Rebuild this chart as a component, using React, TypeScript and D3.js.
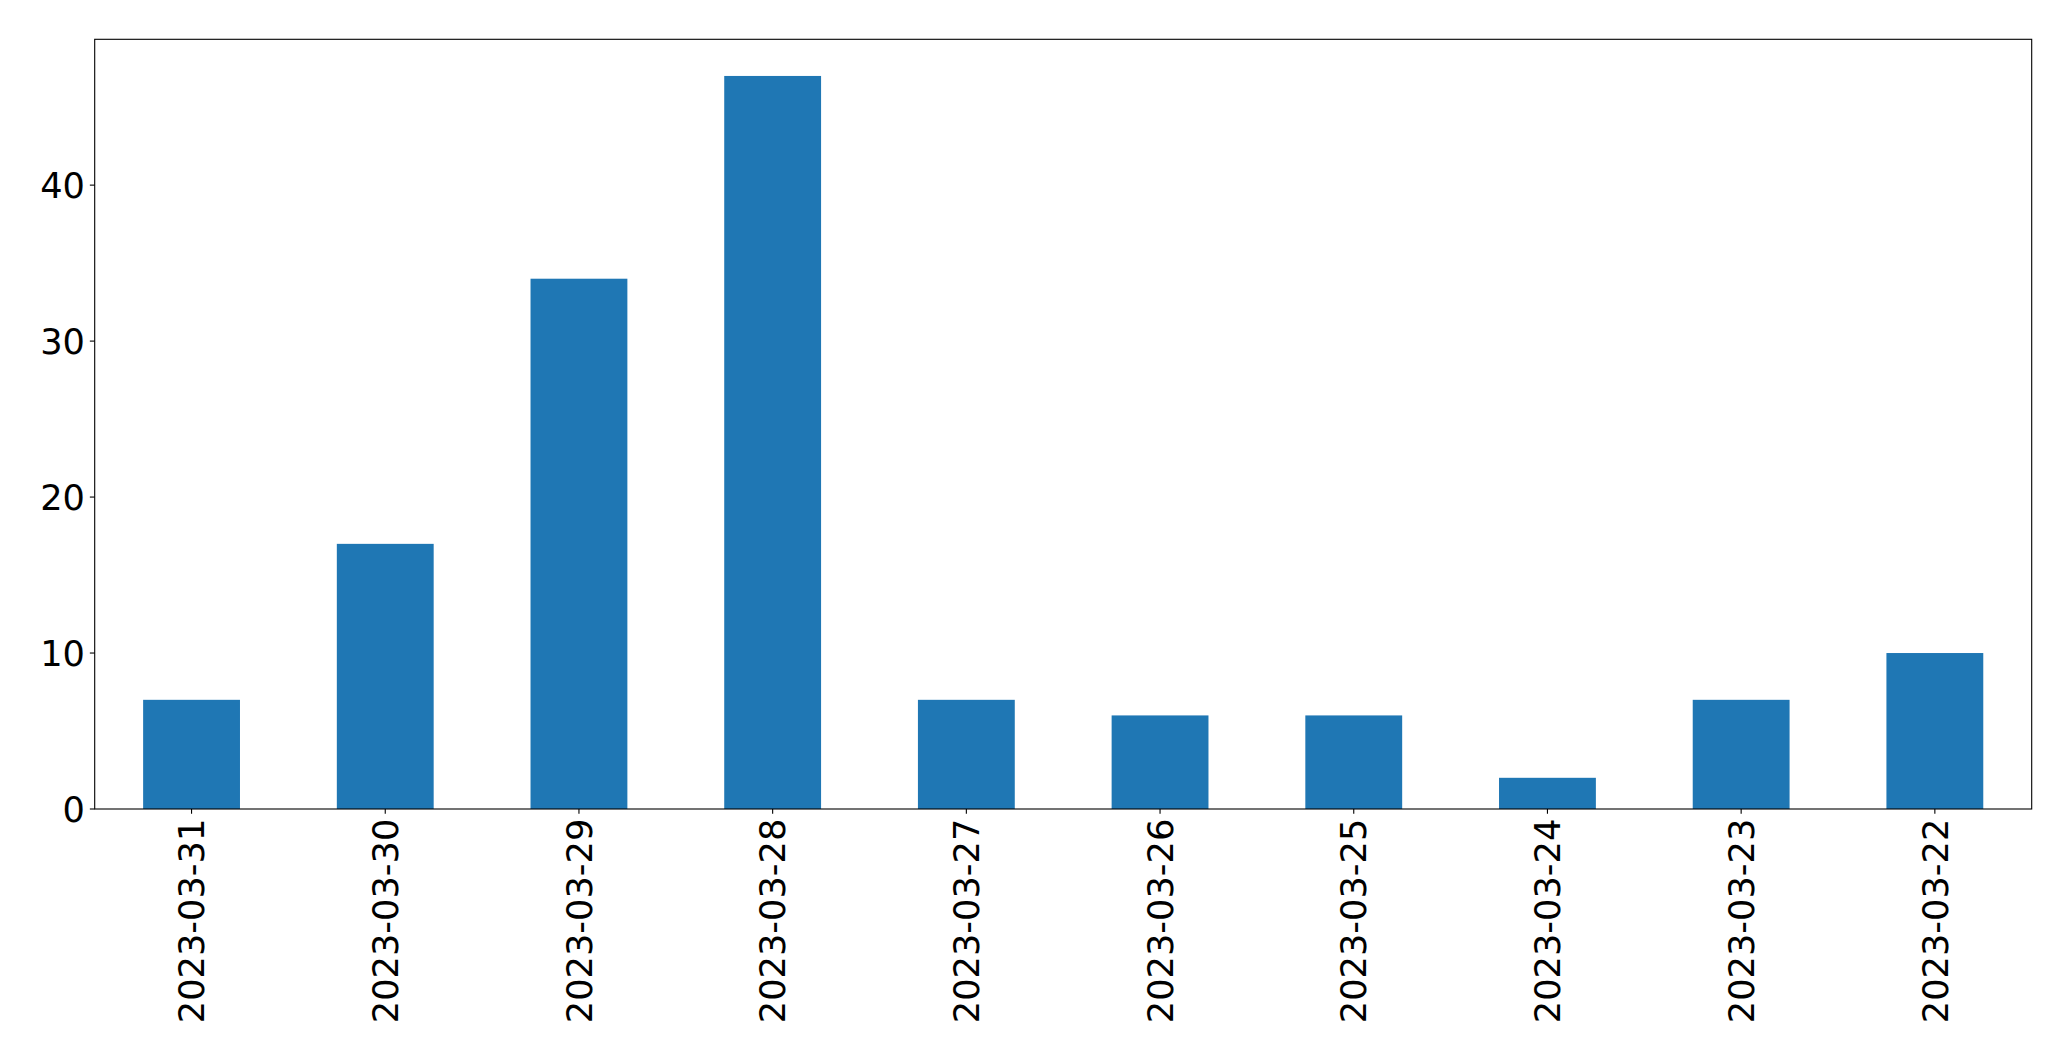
import React from "react";
import * as d3 from "d3";

const categories = [
  "2023-03-31", "2023-03-30", "2023-03-29", "2023-03-28", "2023-03-27",
  "2023-03-26", "2023-03-25", "2023-03-24", "2023-03-23", "2023-03-22",
];
const values = [7, 17, 34, 47, 7, 6, 6, 2, 7, 10];
const yTicks = [0, 10, 20, 30, 40];

const W = 2071;
const H = 1061;
const left = 94.7;
const right = 2031.7;
const top = 39.3;
const bottom = 809;
const fontSize = 35.2;
const tickLen = 4.86;
const pad = 4.86;

export default function App() {
  const x = d3
    .scaleLinear()
    .domain([-0.5, categories.length - 0.5])
    .range([left, right]);
  const yMax = d3.max(values)! * 1.05;
  const y = d3.scaleLinear().domain([0, yMax]).range([bottom, top]);
  const barW = x(0.25) - x(-0.25);

  return (
    <svg
      width={W}
      height={H}
      style={{ position: "absolute", left: 0, top: 0, background: "#fff" }}
      fontFamily="DejaVu Sans"
    >
      <rect x={0} y={0} width={W} height={H} fill="#fff" />
      {values.map((v, i) => (
        <rect
          key={i}
          x={x(i) - barW / 2}
          y={y(v)}
          width={barW}
          height={y(0) - y(v)}
          fill="#1f77b4"
        />
      ))}
      <rect
        x={left}
        y={top}
        width={right - left}
        height={bottom - top}
        fill="none"
        stroke="#000"
        strokeWidth={1.1}
      />
      {yTicks.map((t) => (
        <g key={t}>
          <line
            x1={left - tickLen}
            x2={left}
            y1={y(t)}
            y2={y(t)}
            stroke="#000"
            strokeWidth={1.1}
          />
          <text
            x={left - tickLen - pad}
            y={y(t)}
            dy="0.36em"
            textAnchor="end"
            fontSize={fontSize}
            fill="#000"
          >
            {t}
          </text>
        </g>
      ))}
      {categories.map((c, i) => (
        <g key={c}>
          <line
            x1={x(i)}
            x2={x(i)}
            y1={bottom}
            y2={bottom + tickLen}
            stroke="#000"
            strokeWidth={1.1}
          />
          <text
            transform={`translate(${x(i)},${bottom + tickLen + pad}) rotate(-90)`}
            textAnchor="end"
            dy="0.36em"
            fontSize={fontSize}
            fill="#000"
          >
            {c}
          </text>
        </g>
      ))}
    </svg>
  );
}
